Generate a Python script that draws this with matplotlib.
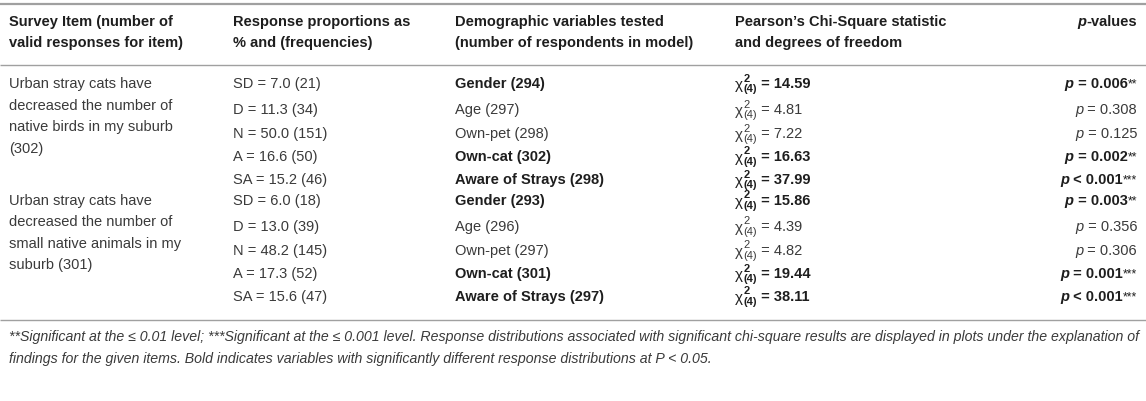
import matplotlib
matplotlib.use("Agg")
import matplotlib.pyplot as plt

plt.rcParams['font.family'] = ['Liberation Sans', 'DejaVu Sans']

# ---- table data ----
headers = [
    "Survey Item (number of\nvalid responses for item)",
    "Response proportions as\n% and (frequencies)",
    "Demographic variables tested\n(number of respondents in model)",
    "Pearson\u2019s Chi-Square statistic\nand degrees of freedom",
]
items = [
    "Urban stray cats have\ndecreased the number of\nnative birds in my suburb\n(302)",
    "Urban stray cats have\ndecreased the number of\nsmall native animals in my\nsuburb (301)",
]
responses = [
    ["SD = 7.0 (21)", "D = 11.3 (34)", "N = 50.0 (151)", "A = 16.6 (50)", "SA = 15.2 (46)"],
    ["SD = 6.0 (18)", "D = 13.0 (39)", "N = 48.2 (145)", "A = 17.3 (52)", "SA = 15.6 (47)"],
]
variables = [
    ["Gender (294)", "Age (297)", "Own-pet (298)", "Own-cat (302)", "Aware of Strays (298)"],
    ["Gender (293)", "Age (296)", "Own-pet (297)", "Own-cat (301)", "Aware of Strays (297)"],
]
chi_values = [
    ["14.59", "4.81", "7.22", "16.63", "37.99"],
    ["15.86", "4.39", "4.82", "19.44", "38.11"],
]
p_ops = [
    ["=", "=", "=", "=", "<"],
    ["=", "=", "=", "=", "<"],
]
p_values = [
    ["0.006", "0.308", "0.125", "0.002", "0.001"],
    ["0.003", "0.356", "0.306", "0.001", "0.001"],
]
p_stars = [
    ["**", "", "", "**", "***"],
    ["**", "", "", "***", "***"],
]
significant = [
    [True, False, False, True, True],
    [True, False, False, True, True],
]
footnote = [
    "**Significant at the \u2264 0.01 level; ***Significant at the \u2264 0.001 level. "
    "Response distributions associated with significant chi-square results are displayed in plots under the explanation of",
    "findings for the given items. Bold indicates variables with significantly different response distributions at P < 0.05.",
]

# ---- layout ----
W, H = 1146, 401
fig = plt.figure(figsize=(W / 100, H / 100), dpi=100)
ax = fig.add_axes([0, 0, 1, 1])
ax.set_xlim(0, W)
ax.set_ylim(H, 0)
ax.axis("off")
renderer = fig.canvas.get_renderer()

col_x = [9, 233, 455, 735]
p_right = 1137
fs = 10.5
dark = "#1e1e1e"
grey = "#3a3a3a"
line_c = "#a0a0a0"


def width(t):
    return t.get_window_extent(renderer).width


def txt(x, y, s, **kw):
    kw.setdefault("fontsize", fs)
    kw.setdefault("va", "baseline")
    return ax.text(x, y, s, **kw)


# rules
ax.plot([0, W], [4, 4], color=line_c, lw=1.6, solid_capstyle="butt")
ax.plot([0, W], [65, 65], color=line_c, lw=1.0, solid_capstyle="butt")
ax.plot([0, W], [320, 320], color=line_c, lw=1.0, solid_capstyle="butt")

# header
for x, h in zip(col_x, headers):
    for k, line in enumerate(h.split("\n")):
        txt(x, 26 + 21 * k, line, fontweight="bold", color=dark)
t = txt(p_right, 26, "-values", fontweight="bold", color=dark, ha="right")
txt(p_right - width(t), 26, "p", fontweight="bold", fontstyle="italic", color=dark, ha="right")

row_off = [0, 26, 50, 73, 96]
group_y = [88, 205]

for g in range(len(items)):
    y0 = group_y[g]
    for k, line in enumerate(items[g].split("\n")):
        txt(col_x[0], y0 + 21.5 * k, line, color=grey)
    for r in range(5):
        y = y0 + row_off[r]
        sig = significant[g][r]
        wt = "bold" if sig else "normal"
        col = dark if sig else grey
        txt(col_x[1], y, responses[g][r], color=grey)
        txt(col_x[2], y, variables[g][r], fontweight=wt, color=col)
        # chi-square with stacked super/subscript
        chi = txt(col_x[3], y + 1, "\u03c7", fontsize=fs * 1.05, color=col)
        xs = col_x[3] + width(chi) + 0.5
        sup = txt(xs, y - 6.5, "2", fontsize=fs * 0.76, fontweight=wt, color=col)
        sub = txt(xs, y + 4, "(4)", fontsize=fs * 0.76, fontweight=wt, color=col)
        xe = xs + max(width(sup), width(sub))
        txt(xe, y, " = " + chi_values[g][r], fontweight=wt, color=col)
        # p-value, right aligned
        xr = p_right
        if p_stars[g][r]:
            st = txt(xr, y - 1, p_stars[g][r], fontsize=fs * 0.85, color=col, ha="right")
            xr -= width(st)
        v = txt(xr, y, " " + p_ops[g][r] + " " + p_values[g][r], fontweight=wt, color=col, ha="right")
        xr -= width(v)
        txt(xr, y, "p", fontweight=wt, fontstyle="italic", color=col, ha="right")

# footnote
for k, line in enumerate(footnote):
    txt(col_x[0], 341 + 22.5 * k, line, fontsize=10.2, fontstyle="italic", color=grey)

fig.savefig("out.png", dpi=100)
